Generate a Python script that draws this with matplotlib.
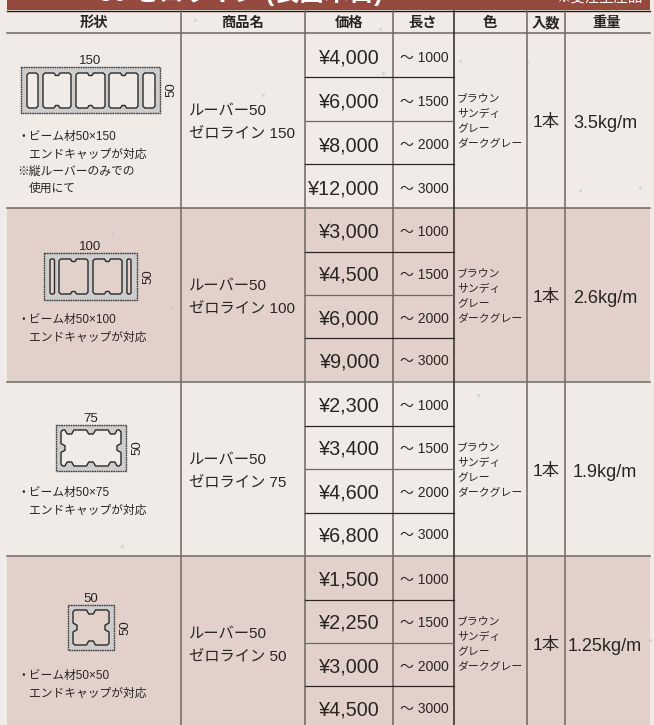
import matplotlib
matplotlib.use("Agg")
import matplotlib.pyplot as plt
from matplotlib.patches import Polygon, Rectangle

plt.rcParams["font.family"] = ["Liberation Sans", "Noto Sans CJK JP", "DejaVu Sans"]

headers = ["形状", "商品名", "価格", "長さ", "色", "入数", "重量"]
header_x = [94, 243, 349, 423, 490, 546, 607]
col_x = [181, 305, 393, 453.5, 527, 565]

widths = [150, 100, 75, 50]
names = ["ゼロライン 150", "ゼロライン 100", "ゼロライン 75", "ゼロライン 50"]
prices = [
    ["¥4,000", "¥6,000", "¥8,000", "¥12,000"],
    ["¥3,000", "¥4,500", "¥6,000", "¥9,000"],
    ["¥2,300", "¥3,400", "¥4,600", "¥6,800"],
    ["¥1,500", "¥2,250", "¥3,000", "¥4,500"],
]
lengths = ["～ 1000", "～ 1500", "～ 2000", "～ 3000"]
colors = ["ブラウン", "サンディ", "グレー", "ダークグレー"]
weights = ["3.5kg/m", "2.6kg/m", "1.9kg/m", "1.25kg/m"]
notes = [
    ["・ビーム材50×150", "エンドキャップが対応", "※縦ルーバーのみでの", "使用にて"],
    ["・ビーム材50×100", "エンドキャップが対応"],
    ["・ビーム材50×75", "エンドキャップが対応"],
    ["・ビーム材50×50", "エンドキャップが対応"],
]
note_y = [136, 319, 492, 675]

row_y = [33, 208, 382, 556, 725]
sub_y = [[77, 120.5, 164], [251.7, 295, 338], [426, 469, 512.5], [599.5, 642.5, 686]]

# outer box of each profile: x0, y0, x1, y1
outer = [(21, 67, 160, 113), (44, 253, 137, 300), (56, 425, 126, 471), (68, 605, 114, 650)]
# chambers: x0, y0, x1, y1, notch fractions along top/bottom, notch fractions along sides
chambers = [
    [(27, 73, 38, 108, [], []), (43, 73, 71, 108, [0.5], []), (76, 73, 105, 108, [0.5], []),
     (109, 73, 138, 108, [0.5], []), (143, 73, 155, 108, [], [])],
    [(50, 259, 54.5, 294, [], []), (59, 259, 88, 294, [0.5], []), (93, 259, 122, 294, [0.5], []),
     (127, 259, 131, 294, [], [])],
    [(61, 430, 121, 466, [0.14, 0.5, 0.86], [0.5])],
    [(73, 610, 109, 645, [0.5], [0.5])],
]
specks_x = [460, 380, 263, 195, 383, 640, 112, 172, 345, 527, 580, 330, 96, 122, 478, 650]
specks_y = [61, 29, 95, 20, 73, 187, 234, 308, 309, 62, 190, 222, 490, 546, 395, 640]

paper = "#f0ebe6"
pink = "#e1d1ca"
band = "#96493f"
grey = "#6f6761"
dark = "#2b2725"
ink = "#2a2523"


def chamber_pts(x0, y0, x1, y1, hn, vn, d=2.5, w=3.0, r=1.5):
    pts = [(x0, y0 + r), (x0 + r, y0)]
    for f in hn:
        c = x0 + f * (x1 - x0)
        pts += [(c - w, y0), (c - w / 2, y0 + d), (c + w / 2, y0 + d), (c + w, y0)]
    pts += [(x1 - r, y0), (x1, y0 + r)]
    for f in vn:
        c = y0 + f * (y1 - y0)
        pts += [(x1, c - w), (x1 - d, c - w / 2), (x1 - d, c + w / 2), (x1, c + w)]
    pts += [(x1, y1 - r), (x1 - r, y1)]
    for f in reversed(hn):
        c = x0 + f * (x1 - x0)
        pts += [(c + w, y1), (c + w / 2, y1 - d), (c - w / 2, y1 - d), (c - w, y1)]
    pts += [(x0 + r, y1), (x0, y1 - r)]
    for f in reversed(vn):
        c = y0 + f * (y1 - y0)
        pts += [(x0, c + w), (x0 + d, c + w / 2), (x0 + d, c - w / 2), (x0, c - w)]
    return pts


def put(x, yc, s, size, ha="left", **kw):
    # yc is the visual middle of the glyphs, in pixels
    ax.text(x, yc + 0.37 * size / 0.72, s, fontsize=size, ha=ha, va="baseline", color=kw.pop("color", ink), **kw)


fig = plt.figure(figsize=(6.54, 7.25), dpi=100, facecolor=paper)
ax = fig.add_axes([0, 0, 1, 1])
ax.set_xlim(0, 654)
ax.set_ylim(725, 0)
ax.axis("off")

ax.add_patch(Rectangle((7, 0), 643, 10, fc=band, ec="none"))
ax.text(241, 1, "50 ゼロライン (表面木目)", color="white", fontsize=18, ha="center", va="baseline", weight="bold")
ax.text(642, 2, "※受注生産品", color="white", fontsize=10.4, ha="right", va="baseline")

for i in [1, 3]:
    ax.add_patch(Rectangle((7, row_y[i]), 643, row_y[i + 1] - row_y[i], fc=pink, ec="none"))

ax.scatter(specks_x, specks_y, s=5, color="#a9c8cf", alpha=0.55, linewidths=0, zorder=1)

ax.plot([7, 650], [10.5, 10.5], color="#1c1a19", lw=1.0)
for y in row_y[:4]:
    ax.plot([7, 650], [y, y], color=grey, lw=1.1)
for i, x in enumerate(col_x):
    c = dark if i == 3 else grey
    ax.plot([x, x], [10.5, 725], color=c, lw=1.1)

for i in range(4):
    for j, y in enumerate(sub_y[i]):
        ax.plot([305, 453.5], [y, y], color=grey if j == 1 else dark, lw=0.9)

for x, h in zip(header_x, headers):
    put(x, 22, h, 10.3, ha="center", weight="bold", family=["Noto Sans CJK JP"])

price_off = [
    [23.5, 67.5, 111, 154.5],
    [22.5, 65.5, 109.5, 152.3],
    [22.5, 65.5, 109.5, 152.3],
    [22.5, 65.5, 109.5, 152.3],
]
for i in range(4):
    y0 = row_y[i]
    fill = pink if i % 2 else paper
    x0, oy0, x1, oy1 = outer[i]
    ax.add_patch(Rectangle((x0, oy0), x1 - x0, oy1 - oy0, fc="#cdcdcd", ec="#3c3a39", lw=1.0, ls=(0, (1.2, 0.5))))
    for c in chambers[i]:
        d = 2.5 if i < 2 else 4
        w = 3.0 if i < 2 else 4.5
        pts = chamber_pts(*c, d=d, w=w, r=1.0 if c[2] - c[0] < 6 else 1.8)
        ax.add_patch(Polygon(pts, closed=True, fc=fill, ec="#2b2928", lw=1.0, joinstyle="round"))
    put((x0 + x1) / 2, oy0 - 8, str(widths[i]), 9.5, ha="center")
    ax.text(x1 + 11, (oy0 + oy1) / 2, "50", fontsize=9.5, rotation=90, ha="center", va="center", color=ink)

    for k, line in enumerate(notes[i]):
        nx = 17 if line[0] in "・※" else 29
        put(nx, note_y[i] + k * 17.3, line, 8.5)

    put(189, y0 + 75.5, "ルーバー50", 11)
    put(189, y0 + 98.5, names[i], 11)

    for k in range(4):
        put(380, y0 + price_off[i][k], prices[i][k], 14.2, ha="right")
        put(449, y0 + price_off[i][k], lengths[k], 10, ha="right")

    for k, c in enumerate(colors):
        put(457, y0 + 64.5 + k * 15, c, 7.8)

    put(546, y0 + 88, "1本", 12.5, ha="center")
    put(605, y0 + 88, weights[i], 13, ha="center")

fig.savefig("out.png", dpi=100, facecolor=paper)
